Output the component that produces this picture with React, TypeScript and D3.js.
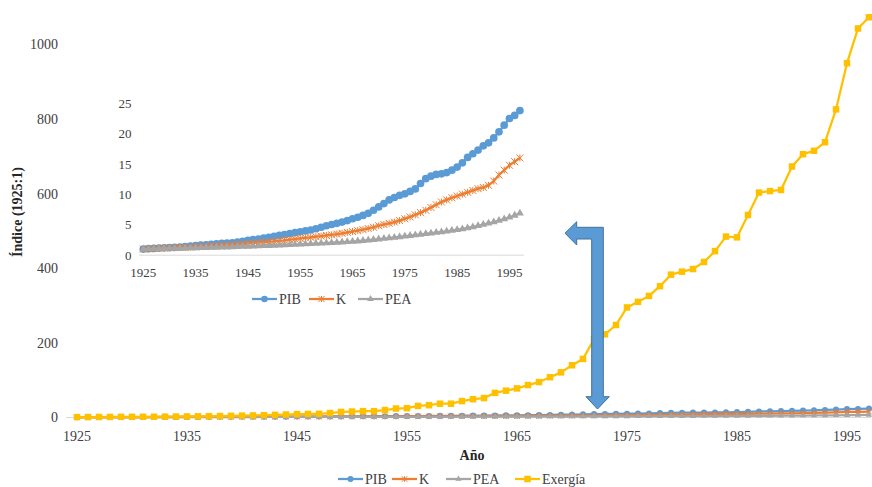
import React, { useEffect, useRef } from 'react';
import * as d3 from 'd3';

// categories
const years = d3.range(1925, 1998);
const xTickLabels = ['1925', '1935', '1945', '1955', '1965', '1975', '1985', '1995'];
const mainYTicks = [0, 200, 400, 600, 800, 1000];
const insetYTicks = [0, 5, 10, 15, 20, 25];

// series values, index 1925 = 1
const pib = [
  1.0, 1.08, 1.12, 1.18, 1.22, 1.25, 1.3, 1.35, 1.42, 1.5,
  1.58, 1.65, 1.72, 1.8, 1.88, 1.95, 2.0, 2.05, 2.15, 2.3,
  2.45, 2.55, 2.65, 2.8, 2.95, 3.1, 3.25, 3.4, 3.55, 3.7,
  3.85, 4.0, 4.15, 4.35, 4.6, 4.85, 5.05, 5.25, 5.45, 5.7,
  6.0, 6.25, 6.55, 6.9, 7.4, 7.95, 8.5, 9.1, 9.5, 9.85,
  10.1, 10.5, 10.9, 11.8, 12.6, 13.0, 13.3, 13.4, 13.6, 14.0,
  14.5, 15.2, 16.1, 16.7, 17.3, 18.0, 18.5, 19.3, 20.3, 21.4,
  22.5, 23.0, 23.8,
];
const capital = [
  1.0, 1.04, 1.08, 1.12, 1.16, 1.2, 1.24, 1.27, 1.3, 1.34,
  1.38, 1.42, 1.46, 1.5, 1.55, 1.6, 1.65, 1.7, 1.75, 1.82,
  1.9, 1.97, 2.05, 2.12, 2.2, 2.28, 2.36, 2.45, 2.55, 2.65,
  2.75, 2.85, 2.95, 3.05, 3.15, 3.25, 3.35, 3.48, 3.6, 3.75,
  3.9, 4.05, 4.2, 4.4, 4.6, 4.85, 5.05, 5.25, 5.45, 5.7,
  6.0, 6.3, 6.65, 7.0, 7.4, 7.85, 8.3, 8.75, 9.1, 9.45,
  9.75, 10.05, 10.35, 10.65, 10.95, 11.15, 11.5, 12.2, 13.2, 14.0,
  14.8, 15.4, 16.0,
];
const pea = [
  1.0, 1.02, 1.04, 1.06, 1.08, 1.1, 1.12, 1.14, 1.16, 1.18,
  1.2, 1.22, 1.24, 1.26, 1.28, 1.3, 1.33, 1.36, 1.39, 1.42,
  1.45, 1.48, 1.51, 1.54, 1.57, 1.6, 1.64, 1.68, 1.72, 1.76,
  1.8, 1.84, 1.88, 1.92, 1.96, 2.0, 2.05, 2.1, 2.15, 2.2,
  2.25, 2.32, 2.4, 2.48, 2.56, 2.65, 2.74, 2.83, 2.92, 3.02,
  3.12, 3.22, 3.32, 3.42, 3.52, 3.62, 3.72, 3.82, 3.93, 4.05,
  4.18, 4.32, 4.48, 4.65, 4.85, 5.05, 5.25, 5.45, 5.7, 5.95,
  6.25, 6.55, 6.9,
];
const exergia = [
  1, 1.1, 1.3, 1.5, 1.7, 1.8, 1.9, 2.0, 2.2, 2.5,
  2.8, 3.2, 3.6, 4.0, 4.5, 5.0, 5.5, 6.2, 7.0, 8.0,
  9, 9.5, 10, 12, 15, 16, 17, 17, 20, 24,
  25, 31, 33, 37, 37, 44, 49, 52, 66, 72,
  78, 87, 95, 108, 121, 140, 157, 210, 223, 248,
  295, 310, 326, 352, 383, 391, 398, 417, 446, 485,
  483, 543, 603, 607, 610, 673, 706, 715, 738, 826,
  950, 1043, 1073,
];

type Marker = 'circle' | 'star' | 'triangle' | 'square';
type Series = { name: string; values: number[]; color: string; marker: Marker };

const mainSeries: Series[] = [
  { name: 'PIB', values: pib, color: '#5B9BD5', marker: 'circle' },
  { name: 'K', values: capital, color: '#ED7D31', marker: 'star' },
  { name: 'PEA', values: pea, color: '#A5A5A5', marker: 'triangle' },
  { name: 'Exergía', values: exergia, color: '#FFC000', marker: 'square' },
];
const insetSeries = mainSeries.slice(0, 3);

const FONT = "'Liberation Serif', 'DejaVu Serif', serif";

function drawMarker(g: any, kind: Marker, x: number, y: number, color: string, s: number) {
  if (kind === 'circle') {
    g.append('circle').attr('cx', x).attr('cy', y).attr('r', s * 0.55).attr('fill', color);
  } else if (kind === 'square') {
    g.append('rect').attr('x', x - s / 2).attr('y', y - s / 2).attr('width', s).attr('height', s).attr('fill', color);
  } else if (kind === 'triangle') {
    g.append('path')
      .attr('d', d3.symbol(d3.symbolTriangle, s * s * 0.55)())
      .attr('transform', `translate(${x},${y})`)
      .attr('fill', color);
  } else {
    const h = s * 0.5;
    g.append('path')
      .attr('d', `M${x - h},${y - h}L${x + h},${y + h}M${x - h},${y + h}L${x + h},${y - h}M${x},${y - h}L${x},${y + h}`)
      .attr('stroke', color)
      .attr('stroke-width', 1)
      .attr('fill', 'none');
  }
}

export default function App() {
  const ref = useRef<SVGSVGElement | null>(null);

  useEffect(() => {
    if (!ref.current) return;
    const svg = d3.select(ref.current);
    svg.selectAll('*').remove();
    const root = svg.append('g').attr('font-family', FONT);

    // ---- main chart
    const x = d3.scaleLinear().domain([1925, 1997]).range([77, 869]);
    const y = d3.scaleLinear().domain([0, 1000]).range([417.5, 44.5]);

    root.append('line')
      .attr('x1', 66).attr('x2', 871).attr('y1', y(0)).attr('y2', y(0))
      .attr('stroke', '#D9D9D9').attr('stroke-width', 1);

    root.append('g').selectAll('text').data(mainYTicks).join('text')
      .attr('x', 58).attr('y', d => y(d)).attr('dy', '0.35em')
      .attr('text-anchor', 'end').attr('font-size', 14).attr('fill', '#404040')
      .text(d => d);

    root.append('g').selectAll('text').data(xTickLabels).join('text')
      .attr('x', d => x(+d)).attr('y', 436).attr('dy', '0.35em')
      .attr('text-anchor', 'middle').attr('font-size', 14).attr('fill', '#404040')
      .text(d => d);

    root.append('text')
      .attr('x', 472).attr('y', 455).attr('dy', '0.35em').attr('text-anchor', 'middle')
      .attr('font-size', 14).attr('font-weight', 'bold').attr('fill', '#262626')
      .text('Año');

    root.append('text')
      .attr('transform', 'translate(17,212) rotate(-90)').attr('dy', '0.35em').attr('text-anchor', 'middle')
      .attr('font-size', 14).attr('font-weight', 'bold').attr('fill', '#262626')
      .text('Índice (1925:1)');

    const mainLine = d3.line<number>().x((_, i) => x(years[i])).y(d => y(d));
    mainSeries.forEach(s => {
      const g = root.append('g');
      g.append('path').attr('d', mainLine(s.values)).attr('fill', 'none')
        .attr('stroke', s.color).attr('stroke-width', 2.25).attr('stroke-linejoin', 'round');
      s.values.forEach((v, i) => drawMarker(g, s.marker, x(years[i]), y(v), s.color, s.marker === 'square' ? 6.5 : 5.5));
    });

    // main legend
    const legendStarts = [338, 392, 446, 515];
    mainSeries.forEach((s, i) => {
      const g = root.append('g');
      const lx = legendStarts[i];
      g.append('line').attr('x1', lx).attr('x2', lx + 25).attr('y1', 479).attr('y2', 479)
        .attr('stroke', s.color).attr('stroke-width', 2.25);
      drawMarker(g, s.marker, lx + 12.5, 479, s.color, s.marker === 'square' ? 6.5 : 5.5);
      g.append('text').attr('x', lx + 27).attr('y', 479).attr('dy', '0.35em')
        .attr('font-size', 14).attr('fill', '#404040').text(s.name);
    });

    // ---- inset chart
    const xi = d3.scaleLinear().domain([1925, 1997]).range([143.3, 519.9]);
    const yi = d3.scaleLinear().domain([0, 25]).range([255.2, 103.3]);

    root.append('line')
      .attr('x1', 139).attr('x2', 524).attr('y1', yi(0)).attr('y2', yi(0))
      .attr('stroke', '#D9D9D9').attr('stroke-width', 1);

    root.append('g').selectAll('text').data(insetYTicks).join('text')
      .attr('x', 131.5).attr('y', d => yi(d)).attr('dy', '0.35em')
      .attr('text-anchor', 'end').attr('font-size', 13).attr('fill', '#404040')
      .text(d => d);

    root.append('g').selectAll('text').data(xTickLabels).join('text')
      .attr('x', d => xi(+d)).attr('y', 272).attr('dy', '0.35em')
      .attr('text-anchor', 'middle').attr('font-size', 13).attr('fill', '#404040')
      .text(d => d);

    const insetLine = d3.line<number>().x((_, i) => xi(years[i])).y(d => yi(d));
    insetSeries.forEach(s => {
      const g = root.append('g');
      g.append('path').attr('d', insetLine(s.values)).attr('fill', 'none')
        .attr('stroke', s.color).attr('stroke-width', 2.25).attr('stroke-linejoin', 'round');
      s.values.forEach((v, i) => drawMarker(g, s.marker, xi(years[i]), yi(v), s.color, 7));
    });

    const insetLegendStarts = [252, 309, 358];
    insetSeries.forEach((s, i) => {
      const g = root.append('g');
      const lx = insetLegendStarts[i];
      g.append('line').attr('x1', lx).attr('x2', lx + 25).attr('y1', 299).attr('y2', 299)
        .attr('stroke', s.color).attr('stroke-width', 2.25);
      drawMarker(g, s.marker, lx + 12.5, 299, s.color, 6);
      g.append('text').attr('x', lx + 27).attr('y', 299).attr('dy', '0.35em')
        .attr('font-size', 14).attr('fill', '#404040').text(s.name);
    });

    // ---- bent arrow linking main chart to inset
    const arrow = d3.path();
    arrow.moveTo(603.3, 227.3);
    arrow.lineTo(603.3, 396.7);
    arrow.lineTo(609.3, 396.7);
    arrow.lineTo(597.5, 409);
    arrow.lineTo(586, 396.7);
    arrow.lineTo(591.7, 396.7);
    arrow.lineTo(591.7, 239);
    arrow.lineTo(576.7, 239);
    arrow.lineTo(576.7, 245);
    arrow.lineTo(565, 233.2);
    arrow.lineTo(576.7, 221.7);
    arrow.lineTo(576.7, 227.3);
    arrow.closePath();
    root.append('path').attr('d', arrow.toString())
      .attr('fill', '#5B9BD5').attr('stroke', '#41719C').attr('stroke-width', 1);
  }, []);

  return (
    <div style={{ position: 'absolute', left: 0, top: 0 }}>
      <svg ref={ref} width={872} height={487} style={{ display: 'block', background: 'white' }} />
    </div>
  );
}
